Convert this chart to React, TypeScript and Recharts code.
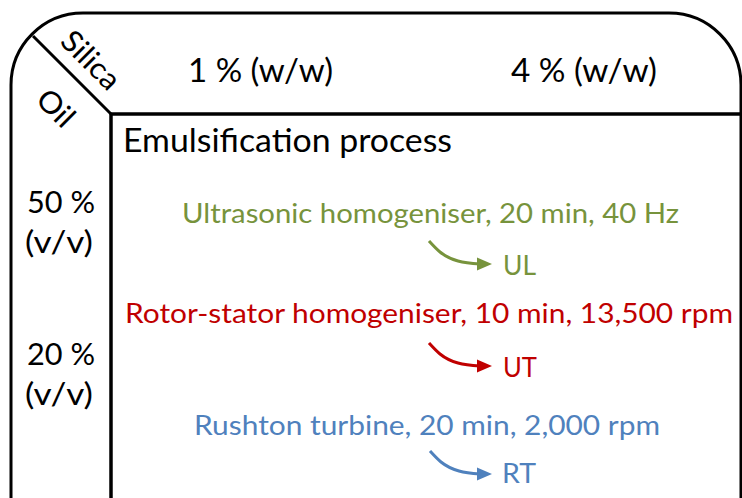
import React from 'react';
import { ScatterChart, Scatter, XAxis, YAxis, ReferenceArea, ReferenceLine } from 'recharts';

// ---- content ----
const columnHeaders = ['1 % (w/w)', '4 % (w/w)'];
const cornerTitles = ['Silica', 'Oil'];
const panelTitle = 'Emulsification process';
const rowLabels = ['50 %', '(v/v)', '20 %', '(v/v)'];
const processes = [
  'Ultrasonic homogeniser, 20 min, 40 Hz',
  'Rotor-stator homogeniser, 10 min, 13,500 rpm',
  'Rushton turbine, 20 min, 2,000 rpm',
];
const codes = ['UL', 'UT', 'RT'];
const processColors = ['#77933C', '#C00000', '#4F81BD'];

// arrow paths (diagram coordinates)
const arrowUL = [{ x: 429, y: 241 }, { x: 440, y: 252 }, { x: 458, y: 261 }, { x: 480, y: 264 }];
const arrowUT = [{ x: 429, y: 343 }, { x: 440, y: 354 }, { x: 458, y: 363 }, { x: 480, y: 366 }];
const arrowRT = [{ x: 430, y: 451 }, { x: 441, y: 462 }, { x: 459, y: 471 }, { x: 480, y: 474 }];
const arrows = [arrowUL, arrowUT, arrowRT];

// ---- layout table built from the content ----
const W = 742;
const H = 498;
const FONT = 'Lato, "Open Sans", sans-serif';

type Label = { x: number; y: number; text: string; color: string; size: number; len?: number; anchor: string; rotate?: boolean };

const labels: Label[] = [
  { x: 188, y: 82, text: columnHeaders[0], color: '#000', size: 33, len: 145, anchor: 'start' },
  { x: 511, y: 82, text: columnHeaders[1], color: '#000', size: 33, len: 146, anchor: 'start' },
  { x: 92, y: 59, text: cornerTitles[0], color: '#000', size: 30, len: 70, anchor: 'middle', rotate: true },
  { x: 57, y: 107, text: cornerTitles[1], color: '#000', size: 30, len: 40, anchor: 'middle', rotate: true },
  { x: 123, y: 152, text: panelTitle, color: '#000', size: 32, len: 329, anchor: 'start' },
  { x: 27, y: 213, text: rowLabels[0], color: '#000', size: 31, len: 68, anchor: 'start' },
  { x: 25, y: 253, text: rowLabels[1], color: '#000', size: 31, len: 68, anchor: 'start' },
  { x: 27, y: 365, text: rowLabels[2], color: '#000', size: 31, len: 68, anchor: 'start' },
  { x: 25, y: 405, text: rowLabels[3], color: '#000', size: 31, len: 68, anchor: 'start' },
  { x: 182, y: 223, text: processes[0], color: processColors[0], size: 27, len: 497, anchor: 'start' },
  { x: 125, y: 323, text: processes[1], color: processColors[1], size: 27, len: 608, anchor: 'start' },
  { x: 194, y: 435, text: processes[2], color: processColors[2], size: 27, len: 466, anchor: 'start' },
  { x: 503, y: 275, text: codes[0], color: processColors[0], size: 27, len: 33, anchor: 'start' },
  { x: 503, y: 377, text: codes[1], color: processColors[1], size: 27, len: 34, anchor: 'start' },
  { x: 502, y: 483, text: codes[2], color: processColors[2], size: 27, len: 34, anchor: 'start' },
];

const LabelShape = (props: any) => {
  const { cx, cy, payload } = props;
  const p: Label = payload;
  return (
    <text
      x={cx}
      y={cy}
      fill={p.color}
      fontSize={p.size}
      fontFamily={FONT}
      textAnchor={p.anchor as any}
      dominantBaseline={p.rotate ? 'central' : 'alphabetic'}
      textLength={p.len}
      lengthAdjust="spacingAndGlyphs"
      transform={p.rotate ? `rotate(45 ${cx} ${cy})` : undefined}
    >
      {p.text}
    </text>
  );
};

const makeArrowHead = (color: string, lastIndex: number) => (props: any) => {
  const { cx, cy, index } = props;
  if (index !== lastIndex) return <g />;
  return <polygon points={`${cx - 3},${cy - 6.5} ${cx + 12},${cy} ${cx - 3},${cy + 6.5}`} fill={color} />;
};

const BoxShape = (props: any) => {
  const { x, y, width, height } = props;
  return <rect x={x} y={y} width={width} height={height} rx={72} ry={72} fill="none" stroke="#000" strokeWidth={3} />;
};

export default function App() {
  return (
    <div style={{ position: 'absolute', left: 0, top: 0, width: W, height: H, background: '#fff' }}>
      <ScatterChart width={W} height={H} margin={{ top: 0, right: 0, bottom: 0, left: 0 }}>
        <XAxis type="number" dataKey="x" domain={[0, W]} hide allowDataOverflow />
        <YAxis type="number" dataKey="y" domain={[0, H]} reversed hide allowDataOverflow />
        <ReferenceArea x1={11} x2={741} y1={13} y2={600} ifOverflow="hidden" shape={BoxShape} />
        <ReferenceLine segment={[{ x: 33, y: 36 }, { x: 111, y: 114 }]} stroke="#000" strokeWidth={3} ifOverflow="visible" />
        <ReferenceLine segment={[{ x: 110, y: 114 }, { x: 742, y: 114 }]} stroke="#000" strokeWidth={3.5} ifOverflow="visible" />
        <ReferenceLine segment={[{ x: 111, y: 113 }, { x: 111, y: 498 }]} stroke="#000" strokeWidth={3.5} ifOverflow="visible" />
        {arrows.map((a, i) => (
          <Scatter
            key={i}
            data={a}
            fill={processColors[i]}
            line={{ stroke: processColors[i], strokeWidth: 3 }}
            lineType="joint"
            lineJointType="monotoneX"
            shape={makeArrowHead(processColors[i], a.length - 1)}
            isAnimationActive={false}
          />
        ))}
        <Scatter data={labels} shape={LabelShape} isAnimationActive={false} />
      </ScatterChart>
    </div>
  );
}
